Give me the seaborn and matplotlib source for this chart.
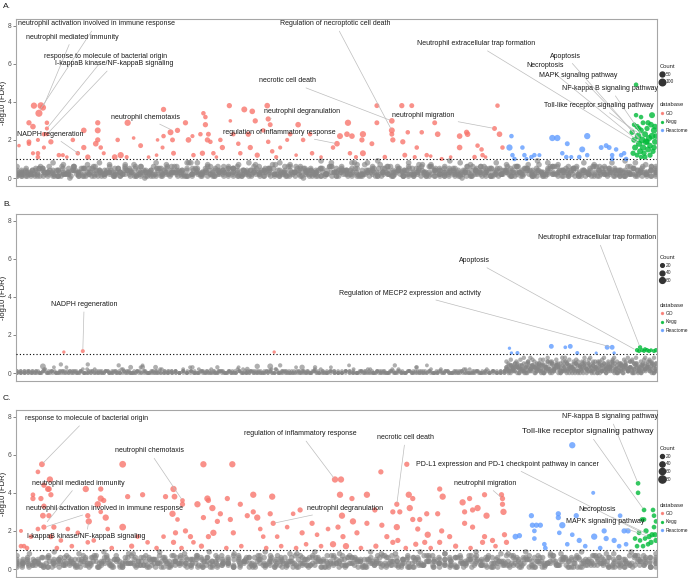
import numpy as np
import pandas as pd
import seaborn as sns
import matplotlib.pyplot as plt
from matplotlib.lines import Line2D

sns.set_style("white")
plt.rcParams['font.family'] = ['Liberation Sans', 'DejaVu Sans']

pal = {"GO": "#F8766D", "Kegg": "#00BA38", "Reactome": "#619CFF"}

# ---- data: (term index, -log10 FDR, Count) ----
a_go = [(17,3.8,90),(24,3.8,110),(26,3.7,90),(22,3.4,120),(12,2.9,60),(16,2.7,70),(30,2.9,40),(30,2.6,30),
        (30,2.3,30),(27,2.3,40),(12,1.9,50),(12,1.8,40),(2,1.7,20),(21,2.0,30),(27,1.6,30),(34,1.9,60),
        (21,1.3,40),(21,1.1,40),(16,1.3,30),(42,1.2,40),(46,1.2,30),(56,2.0,40),(61,1.3,40),(67,2.5,70),
        (67,1.6,60),(71,1.1,60),(81,2.9,60),(81,2.5,80),(81,2.0,60),(79,1.8,70),(84,1.6,40),(87,1.3,30),
        (101,2.0,40),(104,1.2,90),(98,1.1,70),(111,2.9,90),(117,2.1,20),(124,1.7,50),(132,1.1,20),(141,2.0,20),
        (147,3.6,60),(146,1.6,30),(147,2.2,40),(154,2.4,80),(156,2.0,50),(157,1.3,50),(161,2.5,60),(169,2.9,60),
        (172,2.0,70),(176,2.2,30),(177,1.2,40),(184,2.3,40),(186,1.3,60),(187,3.4,40),(189,3.2,40),(189,2.8,60),
        (191,2.0,60),(192,2.3,50),(194,1.9,40),(197,1.3,40),(204,2.0,40),(206,1.6,60),(213,3.8,60),(214,3.0,20),
        (217,2.3,40),(222,1.8,40),(224,1.3,40),(228,3.6,80),(232,2.3,60),(234,1.6,60),(236,3.5,70),(239,3.0,60),
        (241,1.2,60),(247,2.5,40),(251,3.8,70),(252,3.1,60),(254,2.8,50),(252,1.9,40),(256,1.4,40),(264,1.6,30),
        (271,2.0,30),(274,2.3,40),(282,2.8,70),(287,2.0,40),(294,2.3,40),(296,1.3,40),(317,1.6,40),(321,1.8,70),
        (324,2.2,80),(331,2.3,70),(332,2.9,90),(336,2.2,70),(334,1.3,40),(346,2.0,60),(347,2.3,90),(347,1.3,80),
        (361,3.8,50),(361,2.9,50),(356,1.8,50),(369,1.1,40),(376,3.0,70),(376,2.5,80),(376,2.3,50),(377,2.0,60),
        (386,3.8,60),(387,1.9,60),(389,1.2,50),(396,3.8,50),(392,2.4,40),(401,1.6,40),(399,1.1,30),(406,2.4,40),
        (411,1.2,40),(419,2.9,50),(422,2.3,70),(426,1.0,30),(444,2.2,70),(444,1.6,70),(451,2.4,60),(452,2.3,70),
        (459,1.1,40),(462,1.7,40),(466,1.5,40),(467,1.2,40),(479,2.6,50),(482,3.8,40),(484,2.3,70),(487,1.6,40),
        (50,1.1,20),(110,1.1,30),(140,1.2,20),(200,1.1,20),(260,1.1,30),(280,1.2,20),(305,1.1,20),(340,1.1,30),
        (415,1.15,20),(435,1.1,20),(470,1.1,20)]
a_reactome = [(496,2.2,40),(494,1.6,90),(497,1.2,40),(499,1.0,40),(507,1.6,40),(509,1.2,40),(511,1.0,30),
              (516,1.1,40),(519,1.2,40),(524,1.2,30),(537,2.1,90),(542,2.1,90),(552,1.8,50),(547,1.3,40),
              (551,1.1,40),(556,1.1,30),(564,1.1,40),(567,1.5,80),(572,2.2,90),(572,1.2,40),(586,1.6,50),
              (591,1.7,50),(594,1.6,50),(597,1.2,40),(597,1.0,40),(601,1.5,40),(606,1.2,40),(609,1.3,40),(611,1.0,40)]
a_kegg = [(621,4.9,40),(621,3.3,40),(626,3.2,40),(637,3.3,80),(617,2.4,60),(619,2.0,70),(620,1.6,80),(622,2.7,60),
          (623,2.2,100),(624,1.8,90),(625,1.4,80),(626,2.5,70),(627,2.0,110),(628,1.6,90),(629,1.3,60),(630,2.3,80),
          (631,1.9,100),(632,2.6,60),(633,1.5,80),(634,2.1,90),(635,1.7,70),(636,2.8,70),(637,2.2,100),(638,1.4,60),
          (639,2.5,90),(640,1.9,80),(618,1.3,60),(622,1.2,50),(628,2.9,50),(633,2.9,60),(640,2.7,70),(635,1.2,60),
          (624,2.6,50),(630,1.1,50),(639,1.6,70),(619,2.8,40),(641,2.2,70),(626,1.1,40),(632,1.9,60)]

b_go = [(47,1.1,15),(66,1.15,25),(258,1.1,15)]
b_reactome = [(494,1.3,15),(496,1.05,15),(502,1.05,25),(536,1.4,40),(550,1.35,20),(555,1.4,40),(562,1.05,25),
              (581,1.05,12),(592,1.35,40),(597,1.35,40),(599,1.05,15)]
b_kegg = [(622,1.2,30),(625,1.35,30),(627,1.2,25),(629,1.15,20),(632,1.2,30),(634,1.15,25),(636,1.2,20),
          (639,1.15,25),(641,1.2,30),(624,1.15,25),(630,1.25,25)]
b_grey_big = [(26,0.35,60),(44,0.45,30),(71,0.45,30),(102,0.4,30),(114,0.3,40),(126,0.3,40),(139,0.3,40),
              (176,0.3,30),(201,0.3,30),(231,0.2,40),(241,0.35,50),(254,0.35,60),(264,0.4,30),(286,0.3,50),
              (299,0.3,30),(379,0.4,30),(401,0.3,30)]

c_go = [(4,2.0,20),(16,3.7,40),(16,3.9,30),(21,5.1,30),(25,5.5,50),(24,3.7,40),(27,4.4,40),(33,4.7,60),(31,4.2,50),
        (32,4.2,50),(34,3.9,40),(27,3.3,40),(26,2.8,50),(27,2.2,40),(32,2.8,40),(37,2.2,40),(34,1.7,40),(21,2.1,30),
        (14,1.7,30),(7,1.2,30),(4,1.2,30),(44,1.5,30),(51,2.1,30),(61,1.9,30),(69,4.2,60),(71,2.8,40),(72,2.5,60),
        (84,4.2,40),(84,3.7,60),(81,3.4,60),(87,3.6,40),(89,2.7,60),(84,3.0,30),(91,2.1,30),(77,1.5,30),(71,1.4,30),
        (106,5.5,70),(106,2.2,70),(111,3.8,40),(126,3.9,40),(121,1.7,30),(131,1.4,30),(147,1.7,30),(149,3.8,40),
        (156,2.9,60),(157,4.2,60),(158,3.8,50),(166,3.6,30),(166,3.4,40),(161,2.6,30),(159,1.9,40),(157,1.4,40),
        (169,2.0,40),(174,1.7,40),(181,3.4,60),(177,1.4,30),(187,5.5,60),(187,2.7,40),(191,3.7,60),(192,3.6,40),
        (196,3.2,60),(197,1.9,60),(201,2.5,40),(192,1.7,40),(204,2.9,40),(211,3.7,40),(216,5.5,60),(214,2.6,40),
        (217,1.9,40),(224,3.4,40),(231,2.8,40),(237,3.9,60),(237,3.0,40),(241,2.7,60),(244,2.1,30),(247,1.7,30),
        (256,3.8,60),(254,2.9,40),(257,2.4,40),(261,1.7,30),(271,2.2,30),(277,2.9,30),(284,3.1,40),(286,1.9,40),
        (296,2.4,40),(301,1.8,30),(319,4.7,60),(325,4.7,60),(324,3.9,60),(326,2.8,60),(322,2.2,40),(327,1.7,40),
        (317,1.3,60),(312,2.1,30),(336,3.7,40),(337,2.5,60),(341,1.9,40),(351,3.9,60),(351,2.4,40),(359,3.1,40),
        (365,5.1,40),(366,2.3,40),(371,1.7,40),(377,1.4,40),(381,3.4,40),(377,3.0,40),(384,3.0,40),(381,2.2,60),
        (382,1.5,40),(391,5.5,40),(393,3.9,60),(397,3.7,40),(394,3.2,60),(397,2.6,40),(404,2.6,40),(402,2.1,40),
        (411,2.9,40),(412,1.8,60),(409,1.4,40),(424,4.2,40),(427,3.8,60),(422,2.9,40),(426,2.0,40),(424,1.4,40),
        (434,1.7,40),(447,3.5,60),(449,3.0,40),(454,3.7,40),(457,3.1,40),(462,3.2,60),(449,2.4,40),(457,2.2,40),
        (469,3.9,40),(471,2.8,60),(469,1.7,40),(467,1.4,40),(477,1.5,40),(486,3.9,40),(487,3.7,40),(488,3.0,60),
        (487,3.4,40),(489,1.8,40),(491,1.4,40),(10,1.1,30),(40,1.1,30),(55,1.2,30),(95,1.1,30),(115,1.2,40),
        (140,1.1,30),(165,1.1,30),(185,1.2,40),(210,1.1,30),(225,1.2,30),(250,1.1,30),(265,1.2,30),(280,1.1,30),
        (290,1.3,30),(305,1.2,30),(330,1.2,60),(345,1.1,30),(360,1.2,40),(390,1.1,30),(400,1.3,40),(415,1.1,30),
        (440,1.2,40),(455,1.1,30),(480,1.2,30)]
c_reactome = [(500,1.7,50),(504,1.75,40),(516,2.8,40),(517,2.3,40),(521,2.3,40),(525,2.3,40),(519,2.0,30),
              (519,1.6,30),(529,1.3,30),(543,2.9,40),(543,2.7,40),(547,2.3,60),(544,1.9,30),(552,1.3,30),
              (557,6.5,60),(561,2.8,40),(557,1.8,30),(564,1.5,40),(578,4.0,20),(579,1.7,60),(589,2.0,40),
              (591,1.6,40),(599,1.5,40),(605,2.8,30),(609,2.0,40),(613,2.0,40),(604,1.2,30),(611,1.3,30),
              (530,1.1,30),(570,1.2,30),(585,1.1,30)]
c_kegg = [(623,4.5,30),(623,4.0,30),(629,3.1,30),(638,3.1,30),(627,2.6,30),(629,2.6,30),(639,2.8,30),(639,2.2,30),
          (624,1.9,30),(625,1.5,30),(631,2.0,40),(634,1.7,40),(637,1.8,40),(640,1.8,40),(641,1.5,40),(628,1.2,30),
          (633,1.3,30),(636,1.4,40),(641,2.5,30),(620,1.6,30),(630,1.6,30),(622,1.2,30)]

# non-significant terms, one digit per term = -log10 FDR in tenths
a_grey = ["31422513341206253143271524313026415233184213254322613442157231432041352631428312452361324513726341253014236315245132741325631426135243182413526314",
          "24131532416214352612433152743125331642153246123534124713254213635124321534281245313625413241752314236143253126431542713624531342615234132543162",
          "13524136215342513642315243161325423148231524316532412354213625134251634213524317523412536124153242615431254236142531624315243162534213541263",
          "42315624132543175213423651243152634218523413625143254317261345231546132452713524163425136142531436214532416352143526134521436251436215243",
          "61243518472631528462173564182736451827364517283645182736451928364571829364518273645192837465182736451928374651827364519283746",
          "23142531423615243125341623415263142536124351426315243615243126354124361523416253142635142361524316253412634152436125341624315",
          "12321432132412314231324213421342312431242132413243214231324123143212341321432142312341231423142312341324213241321432134213241"]
b_grey_go = ["0101001020100131001000201100102000130010020100010300100201001001201000102001000301001020010001400100201000102001031001002010001200100201001",
             "1010110101101011010110101011010110101101011010110101101011010110101101011010110101101011010110101101011010110101101011010110101101",
             "0101010201010101020101010102010101010201010101020101010102010101010201010101020101010102010101010201010101020101010102010101010",
             "1001100110011001100110011001100110011001100110011001100110011001100110011001100110011001100110011001100110011001100110011001",
             "0010000100300001000200001000010000400000100002000010000100003000010000200001000010000300001000020000010000100004000010000200001000010"]
b_grey_path = ["3524163720518364275031642751836420571364258103627541368205473162580347261583",
               "1203140213041203140230124031402130412031402310420314023104213041203142031",
               "6172530481627354071826354018273650418273560418263750142683705162837405",
               "2041302150314023104250132041503214025031420513024130520413025104231502",
               "3142534213524315243625143526143251436251432615342516342513624315243615",
               "2413352413624315423615243162534126354213625341253624153426153241536241"]
c_grey = ["42533614526354173625143627451326453716254317462534126473526147352641537264153627451362745326154736251463725416352746135274613",
          "31425263142536243715263421536247315264235143627152634125364271536423516243715264325163472516342537162435267143526341725364",
          "53624175364215374625138426375146327541632754163274516832745163275416382745163274581632745163287451632748516327451863274516",
          "24353142635243614352631425361432536241532643152634215362413526341526342153624135264315263421536241352643152634125362413",
          "73826194738261947382615947382619473826159473826194738261594738261947382615947382619473826159473826194738",
          "13242314231524132413524231423152413241352423142315241324135242314231524132413524231423152413241352423142315241",
          "35142635241736251437265143726514372651437625143726514376251437265143726541376251437265143726514376251437265"]

# labels: (text, point term, point y, text term, text y)
a_labels = [("neutrophil activation involved in immune response", 22, 3.5, 1, 8.1),
            ("neutrophil mediated immunity", 26, 3.7, 9, 7.4),
            ("response to molecule of bacterial origin", 30, 2.6, 27, 6.4),
            ("I-kappaB kinase/NF-kappaB signaling", 30, 2.3, 38, 6.0),
            ("NADPH regeneration", 64, 1.2, 0.5, 2.3),
            ("neutrophil chemotaxis", 156, 2.5, 94, 3.2),
            ("Regulation of necroptotic cell death", 376, 2.5, 264, 8.1),
            ("necrotic cell death", 376, 3.0, 243, 5.1),
            ("neutrophil degranulation", 252, 3.1, 248, 3.5),
            ("regulation of inflammatory response", 321, 1.8, 207, 2.4),
            ("neutrophil migration", 479, 2.6, 376, 3.3),
            ("Neutrophil extracellular trap formation", 624, 1.8, 401, 7.05),
            ("Apoptosis", 625, 2.0, 535, 6.4),
            ("Necroptosis", 624, 1.9, 511, 5.9),
            ("MAPK signaling pathway", 626, 2.0, 524, 5.4),
            ("NF-kappa B signaling pathway", 628, 2.2, 547, 4.7),
            ("Toll-like receptor signaling pathway", 625, 2.3, 529, 3.8)]
b_labels = [("NADPH regeneration", 66, 1.15, 34, 3.6),
            ("Regulation of MECP2 expression and activity", 597, 1.35, 323, 4.2),
            ("Apoptosis", 621, 1.2, 443, 5.9),
            ("Neutrophil extracellular trap formation", 625, 1.35, 523, 7.1)]
c_labels = [("response to molecule of bacterial origin", 25, 5.5, 8, 7.9),
            ("neutrophil chemotaxis", 166, 3.6, 98, 6.2),
            ("neutrophil mediated immunity", 29, 2.4, 15, 4.5),
            ("neutrophil activation involved in immune response", 28, 2.2, 9, 3.2),
            ("I-kappaB kinase/NF-kappaB signaling", 72, 2.5, 10, 1.7),
            ("regulation of inflammatory response", 319, 4.7, 228, 7.1),
            ("necrotic cell death", 381, 3.4, 361, 6.9),
            ("neutrophil degranulation", 257, 2.4, 291, 3.2),
            ("PD-L1 expression and PD-1 checkpoint pathway in cancer", 627, 1.9, 400, 5.5),
            ("neutrophil migration", 487, 3.7, 438, 4.5),
            ("NF-kappa B signaling pathway", 623, 4.5, 547, 8.0),
            ("Toll-like receptor signaling pathway", 629, 3.1, 507, 7.2),
            ("Necroptosis", 634, 1.8, 563, 3.1),
            ("MAPK signaling pathway", 634, 1.7, 551, 2.5)]


def sig_frame(go, kegg, reactome):
    rows = []
    for name, recs in (("GO", go), ("Kegg", kegg), ("Reactome", reactome)):
        for t, v, n in recs:
            rows.append((t, v, n, name))
    return pd.DataFrame(rows, columns=["term", "logfdr", "Count", "database"])


def grey_frame(rows, start, stop, count):
    parts = []
    for r in rows:
        vals = [int(c) / 10 for c in r]
        parts.append(pd.DataFrame({"term": np.linspace(start, stop, len(vals)), "logfdr": vals}))
    df = pd.concat(parts, ignore_index=True)
    df["Count"] = count
    return df


def draw(ax, sig, grey, sizes, norm, counts, labels, leg_y, big_label=None):
    sns.scatterplot(data=grey, x="term", y="logfdr", size="Count", sizes=sizes, size_norm=norm,
                    color="#858585", alpha=0.65, linewidth=0, legend=False, ax=ax)
    sns.scatterplot(data=sig, x="term", y="logfdr", hue="database", palette=pal, size="Count",
                    sizes=sizes, size_norm=norm, alpha=0.8, linewidth=0, legend=False, ax=ax)
    ax.axhline(1, color="black", ls=(0, (1, 2)), lw=0.8, zorder=3)
    for txt, px, py, tx, ty in labels:
        fs = 6.0 if txt == big_label else 5.0
        ax.annotate(txt, xy=(px, py), xytext=(tx, ty), ha="left", va="center", fontsize=fs,
                    color="#1a1a1a", zorder=5,
                    arrowprops=dict(arrowstyle="-", color="#bdbdbd", lw=0.5, shrinkA=0.5, shrinkB=1.5))
    ax.set_xlim(-1, 642)
    ax.set_ylim(-0.42, 8.35)
    ax.set_xticks([])
    ax.set_yticks([0, 2, 4, 6, 8])
    ax.tick_params(axis="y", length=2, width=0.5, color="#555555", pad=1, labelsize=4.8,
                   labelcolor="#4d4d4d", left=True)
    ax.set_xlabel("")
    ax.set_ylabel("-log10 (FDR)", fontsize=5.5, labelpad=1, color="#1a1a1a")
    for sp in ax.spines.values():
        sp.set_color("#a6a6a6")
        sp.set_linewidth(0.8)

    def s_of(c):
        return sizes[0] + (c - norm[0]) / (norm[1] - norm[0]) * (sizes[1] - sizes[0])
    h1 = [Line2D([], [], ls="", marker="o", color="#333333", markersize=np.sqrt(s_of(c)), label=str(c))
          for c in counts]
    leg1 = ax.legend(handles=h1, title="Count", loc="upper left", bbox_to_anchor=(1.004, leg_y[0]),
                     frameon=False, fontsize=3.5, title_fontsize=4.2, handletextpad=0.1,
                     labelspacing=0.55, borderpad=0, handlelength=1.2, borderaxespad=0)
    leg1._legend_box.align = "left"
    ax.add_artist(leg1)
    h2 = [Line2D([], [], ls="", marker="o", color=pal[k], alpha=0.8, markersize=1.4, label=k) for k in pal]
    leg2 = ax.legend(handles=h2, title="database", loc="upper left", bbox_to_anchor=(1.004, leg_y[1]),
                     frameon=False, fontsize=3.5, title_fontsize=4.2, handletextpad=0.1,
                     labelspacing=0.7, borderpad=0, handlelength=1.2, borderaxespad=0)
    leg2._legend_box.align = "left"


fig = plt.figure(figsize=(7, 5.78), dpi=100)
axes = [fig.add_axes([16 / 700, 1 - 186 / 578, 641 / 700, 167 / 578]),
        fig.add_axes([16 / 700, 1 - 381 / 578, 641 / 700, 167 / 578]),
        fig.add_axes([16 / 700, 1 - 577 / 578, 641 / 700, 167 / 578])]

grey_b = pd.concat([grey_frame(b_grey_go, 0, 489, 22), grey_frame(b_grey_path, 491, 641, 32),
                    pd.DataFrame(b_grey_big, columns=["term", "logfdr", "Count"])], ignore_index=True)

draw(axes[0], sig_frame(a_go, a_kegg, a_reactome), grey_frame(a_grey, 0, 641, 70),
     (3, 32), (0, 150), [50, 100], a_labels, (0.73, 0.50))
draw(axes[1], sig_frame(b_go, b_kegg, b_reactome), grey_b,
     (2, 20), (0, 70), [20, 40, 60], b_labels, (0.755, 0.47))
draw(axes[2], sig_frame(c_go, c_kegg, c_reactome), grey_frame(c_grey, 0, 641, 45),
     (2, 30), (0, 90), [20, 40, 60, 80], c_labels, (0.785, 0.445),
     big_label="Toll-like receptor signaling pathway")

for letter, py in (("A.", 6), ("B.", 204), ("C.", 398)):
    fig.text(3 / 700, 1 - py / 578, letter, fontsize=6, va="center", ha="left", color="#1a1a1a")

fig.savefig("out.png", dpi=100)
